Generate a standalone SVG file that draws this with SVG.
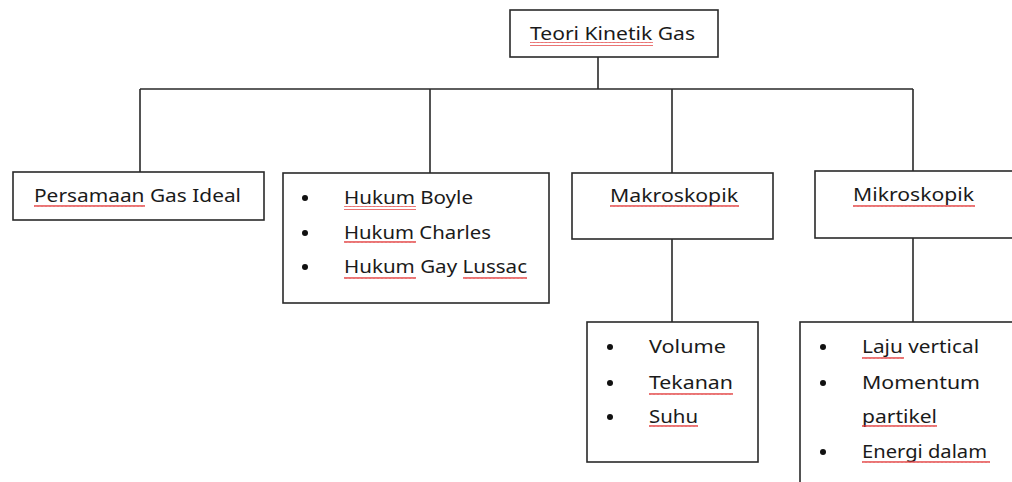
<svg xmlns="http://www.w3.org/2000/svg" width="1012" height="482" viewBox="0 0 1012 482">
  <defs>
    <style>
      .box{fill:#fff;stroke:#2a2a2a;stroke-width:1.6}
      .ln{fill:none;stroke:#2a2a2a;stroke-width:1.6}
      .t{font-family:"Noto Sans","Liberation Sans",sans-serif;font-size:18px;fill:#1a1a1a}
      .b{fill:#111}
      .sq{fill:url(#squig)}
    </style>
    <pattern id="squig" patternUnits="userSpaceOnUse" width="4" height="4">
      <path d="M0,3 L1,1 L2,3 L3,1 L4,3" fill="none" stroke="#e03030" stroke-width="0.8"/>
    </pattern>
  </defs>
  <rect width="1012" height="482" fill="#fff"/>

  <g id="connectors">
    <path class="ln" d="M598,57 V89 M140,89 H913 M140,89 V172 M430,89 V173 M672,89 V173 M913,89 V171"/>
    <path class="ln" d="M672,239 V322 M913,238 V322"/>
  </g>

  <g id="root">
    <rect class="box" x="510" y="10" width="208" height="47"/>
    <text class="t" x="530" y="40" textLength="165" lengthAdjust="spacingAndGlyphs">Teori Kinetik Gas</text>
    <rect class="sq" x="530" y="42" width="123" height="4"/>
  </g>

  <g id="persamaan">
    <rect class="box" x="13" y="172" width="251" height="48"/>
    <text class="t" x="34" y="202" textLength="207" lengthAdjust="spacingAndGlyphs">Persamaan Gas Ideal</text>
    <rect class="sq" x="34" y="205" width="111" height="4"/>
  </g>

  <g id="hukum">
    <rect class="box" x="283" y="173" width="266" height="130"/>
    <circle class="b" cx="305" cy="198" r="3"/>
    <circle class="b" cx="305" cy="233" r="3"/>
    <circle class="b" cx="305" cy="267" r="3"/>
    <text class="t" x="344" y="204" textLength="129" lengthAdjust="spacingAndGlyphs">Hukum Boyle</text>
    <text class="t" x="344" y="239" textLength="147" lengthAdjust="spacingAndGlyphs">Hukum Charles</text>
    <text class="t" x="344" y="273" textLength="183" lengthAdjust="spacingAndGlyphs">Hukum Gay Lussac</text>
    <rect class="sq" x="344" y="206" width="72" height="4"/>
    <rect class="sq" x="344" y="241" width="72" height="4"/>
    <rect class="sq" x="344" y="275" width="72" height="4"/>
    <rect class="sq" x="463" y="275" width="64" height="4"/>
  </g>

  <g id="makroskopik">
    <rect class="box" x="572" y="173" width="201" height="66"/>
    <text class="t" x="610" y="202" textLength="128" lengthAdjust="spacingAndGlyphs">Makroskopik</text>
    <rect class="sq" x="610" y="205" width="129" height="4"/>
  </g>

  <g id="mikroskopik">
    <rect class="box" x="815" y="171" width="210" height="67"/>
    <text class="t" x="853" y="201" textLength="121" lengthAdjust="spacingAndGlyphs">Mikroskopik</text>
    <rect class="sq" x="853" y="204" width="122" height="4"/>
  </g>

  <g id="makro-list">
    <rect class="box" x="587" y="322" width="171" height="140"/>
    <circle class="b" cx="610" cy="347" r="3"/>
    <circle class="b" cx="610" cy="383" r="3"/>
    <circle class="b" cx="610" cy="417" r="3"/>
    <text class="t" x="649" y="353" textLength="77" lengthAdjust="spacingAndGlyphs">Volume</text>
    <text class="t" x="649" y="389" textLength="84" lengthAdjust="spacingAndGlyphs">Tekanan</text>
    <text class="t" x="649" y="423" textLength="49" lengthAdjust="spacingAndGlyphs">Suhu</text>
    <rect class="sq" x="649" y="391" width="84" height="4"/>
    <rect class="sq" x="649" y="425" width="49" height="4"/>
  </g>

  <g id="mikro-list">
    <rect class="box" x="800" y="322" width="230" height="180"/>
    <circle class="b" cx="823" cy="347" r="3"/>
    <circle class="b" cx="823" cy="383" r="3"/>
    <circle class="b" cx="823" cy="452" r="3"/>
    <text class="t" x="862" y="353" textLength="117" lengthAdjust="spacingAndGlyphs">Laju vertical</text>
    <text class="t" x="862" y="389" textLength="118" lengthAdjust="spacingAndGlyphs">Momentum</text>
    <text class="t" x="862" y="423" textLength="75" lengthAdjust="spacingAndGlyphs">partikel</text>
    <text class="t" x="862" y="458" textLength="125" lengthAdjust="spacingAndGlyphs">Energi dalam</text>
    <rect class="sq" x="862" y="355" width="42" height="4"/>
    <rect class="sq" x="862" y="425" width="75" height="4"/>
    <rect class="sq" x="862" y="460" width="128" height="4"/>
  </g>
</svg>
